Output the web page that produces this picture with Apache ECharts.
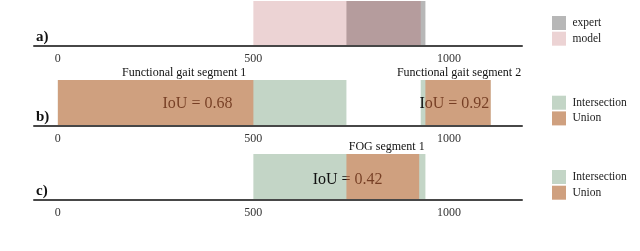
<!DOCTYPE html>
<html>
<head>
<meta charset="utf-8">
<script src="https://cdn.jsdelivr.net/npm/echarts@6/dist/echarts.min.js"></script>
<style>html,body{margin:0;padding:0;background:#fff}#c{width:640px;height:251px}</style>
</head>
<body>
<div id="c"></div>
<script>
// ---- data ----
const tickValues = [0, 500, 1000];
const panelLabels = ['a)', 'b)', 'c)'];
// panel a: time segments [start, end]
const expertA = [[738, 940]];
const modelA = [[500, 928]];
// panel b
const intersectionB = [[0, 738], [928, 1107]];
const unionB = [[0, 500], [940, 1107]];
const segmentNamesB = ['Functional gait segment 1', 'Functional gait segment 2'];
const segmentAnchorsB = [323, 1026];
const iouB = [0.68, 0.92];
const iouAnchorsB = [357, 1014];
// panel c
const intersectionC = [[500, 940]];
const unionC = [[738, 924]];
const segmentNamesC = ['FOG segment 1'];
const segmentAnchorsC = [841];
const iouC = [0.42];
const iouAnchorsC = [741];

// ---- styling ----
const FONT = 'Liberation Serif, Times New Roman, serif';
const GREY = '#b7b7b7';
const MODEL = 'rgba(175,69,73,0.236)';
const GREEN = '#c3d5c6';
const ORANGE_A = 'rgba(219,107,56,0.5)';
const ORANGE = '#cfa07f';

const grids = [
  {left: 34, width: 488, top: 1, height: 44.5},
  {left: 34, width: 488, top: 80, height: 46},
  {left: 34, width: 488, top: 154, height: 45.5}
];

function rectItem(params, api) {
  const p0 = api.coord([api.value(0), 1]);
  const p1 = api.coord([api.value(1), 0]);
  return {type: 'rect', shape: {x: p0[0], y: p0[1], width: p1[0] - p0[0], height: p1[1] - p0[1]}, style: api.style()};
}
function rectSeries(name, idx, data, color, z) {
  return {type: 'custom', name: name, xAxisIndex: idx, yAxisIndex: idx, data: data,
    encode: {x: [0, 1]}, itemStyle: {color: color}, renderItem: rectItem, z: z, silent: true, animation: false};
}
function textSeries(idx, anchors, texts, yVal, dy, size, z) {
  return {type: 'custom', xAxisIndex: idx, yAxisIndex: idx, data: anchors.map(a => [a, yVal]),
    encode: {x: 0, y: 1}, z: z, silent: true, animation: false, clip: false,
    renderItem: function (params, api) {
      const p = api.coord([api.value(0), api.value(1)]);
      return {type: 'text', x: p[0], y: p[1] + dy,
        style: {text: texts[params.dataIndex], fill: '#111', font: size + 'px ' + FONT, align: 'center', verticalAlign: 'middle'}};
    }};
}

const xAxes = grids.map((g, i) => ({
  gridIndex: i, type: 'value', min: -61, max: 1187, z: 10,
  axisLine: {show: true, onZero: false, lineStyle: {color: '#474747', width: 2}},
  axisTick: {show: false}, splitLine: {show: false},
  axisLabel: {customValues: tickValues, formatter: v => String(v), fontSize: 12, fontFamily: FONT, color: '#333', margin: 7}
}));
const yAxes = grids.map((g, i) => ({gridIndex: i, type: 'value', min: 0, max: 1, show: false}));

const legendBase = {orient: 'vertical', left: 547, icon: 'rect', itemWidth: 14, itemHeight: 14, itemGap: 1.7,
  selectedMode: false, textStyle: {fontSize: 11.5, fontFamily: FONT, color: '#222', padding: [0, 0, 0, 1.5]}};

const option = {
  animation: false,
  grid: grids,
  xAxis: xAxes,
  yAxis: yAxes,
  legend: [
    Object.assign({}, legendBase, {top: 11, data: ['expert', 'model']}),
    Object.assign({}, legendBase, {top: 90.7, data: ['Intersection', {name: 'Union', itemStyle: {color: ORANGE}}]}),
    Object.assign({}, legendBase, {top: 165, data: ['Intersection', {name: 'Union', itemStyle: {color: ORANGE}}]})
  ],
  series: [
    rectSeries('expert', 0, expertA, GREY, 1),
    rectSeries('model', 0, modelA, MODEL, 2),
    rectSeries('Intersection', 1, intersectionB, GREEN, 1),
    textSeries(1, iouAnchorsB, iouB.map(v => 'IoU = ' + v.toFixed(2)), 0.478, 0, 16, 2),
    rectSeries('Union', 1, unionB, ORANGE_A, 3),
    textSeries(1, segmentAnchorsB, segmentNamesB, 1, -7.3, 12, 4),
    rectSeries('Intersection', 2, intersectionC, GREEN, 1),
    textSeries(2, iouAnchorsC, iouC.map(v => 'IoU = ' + v.toFixed(2)), 0.43, 0, 16, 2),
    rectSeries('Union', 2, unionC, ORANGE_A, 3),
    textSeries(2, segmentAnchorsC, segmentNamesC, 1, -7.5, 12, 4)
  ],
  graphic: panelLabels.map((t, i) => ({
    type: 'text', left: 36, top: grids[i].top + grids[i].height - 16, z: 20,
    style: {text: t, font: 'bold 15px ' + FONT, fill: '#111'}
  }))
};

const chart = echarts.init(document.getElementById('c'), null, {renderer: 'canvas'});
chart.setOption(option);
</script>
</body>
</html>
